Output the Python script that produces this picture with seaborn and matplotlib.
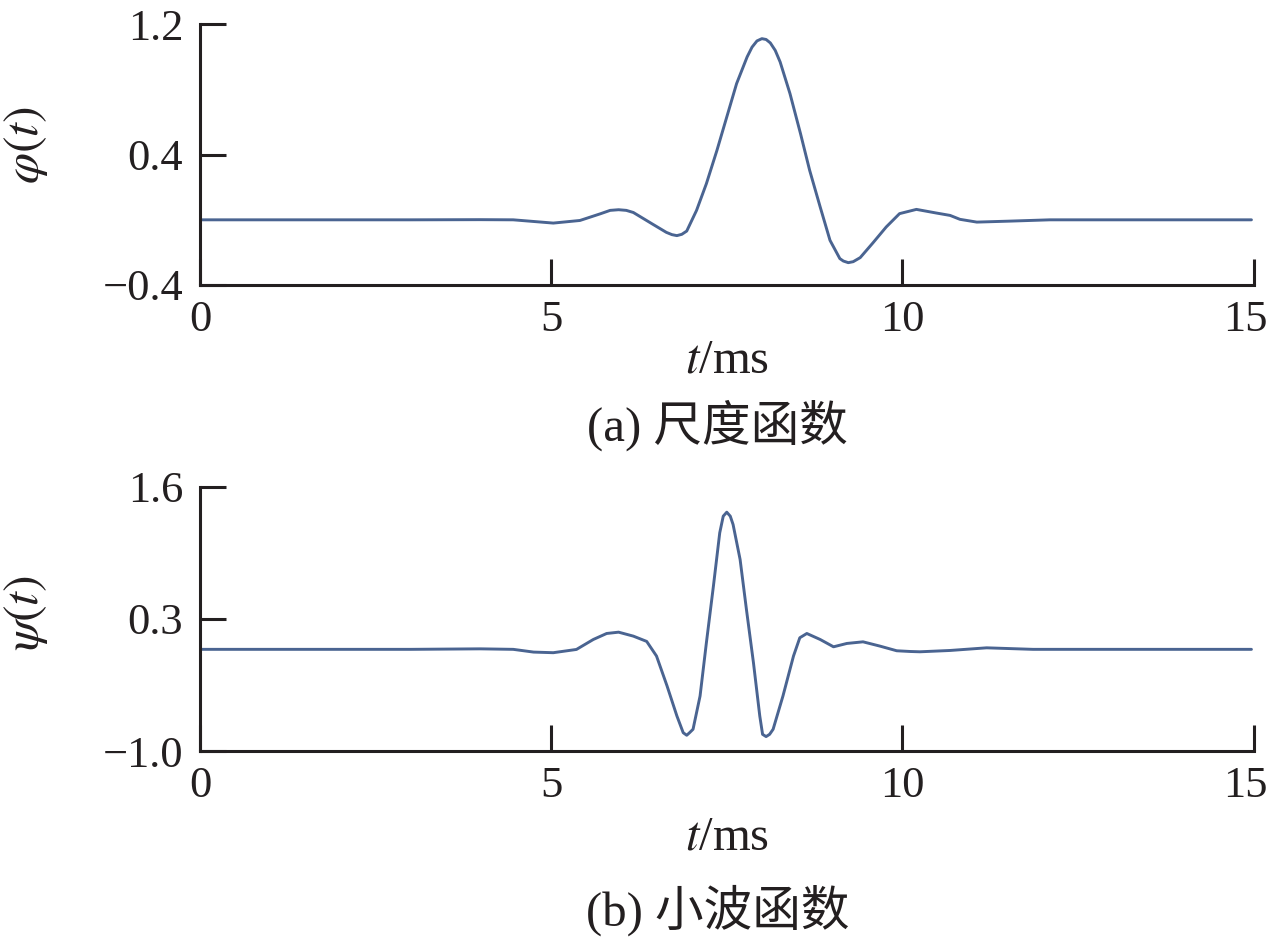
import numpy as np
import pandas as pd
import matplotlib
matplotlib.use("Agg")
import matplotlib.pyplot as plt
import matplotlib.transforms as mtransforms
import seaborn as sns

# ==================================================
# Data
# ==================================================
# (a) scaling function phi(t)
t_phi = [0.0, 1.0, 2.0, 3.0, 3.99, 4.46, 5.03, 5.41, 5.70, 5.84, 5.96,
         6.07, 6.17, 6.45, 6.64, 6.72, 6.79, 6.86, 6.93, 7.07, 7.21,
         7.36, 7.50, 7.64, 7.79, 7.86, 7.93, 8.00, 8.06, 8.12, 8.19,
         8.26, 8.40, 8.55, 8.68, 8.83, 8.97, 9.11, 9.16, 9.23, 9.30,
         9.40, 9.58, 9.77, 9.96, 10.20, 10.48, 10.68, 10.82, 11.06,
         11.53, 12.10, 13.0, 14.0, 14.97]
phi_vals = [0.0, 0.0, 0.0, 0.0, 0.001, 0.0, -0.02, -0.004, 0.037, 0.058,
            0.062, 0.058, 0.045, -0.028, -0.077, -0.091, -0.097, -0.089,
            -0.069, 0.058, 0.222, 0.426, 0.631, 0.836, 1.0, 1.06, 1.098,
            1.112, 1.107, 1.086, 1.04, 0.969, 0.775, 0.529, 0.304, 0.079,
            -0.126, -0.238, -0.253, -0.263, -0.257, -0.232, -0.142,
            -0.044, 0.038, 0.064, 0.042, 0.027, 0.003, -0.014, -0.008,
            0.0, 0.0, 0.0, 0.0]

# (b) wavelet function psi(t)
t_psi = [0.0, 1.0, 2.0, 3.0, 3.99, 4.46, 4.75, 5.03, 5.36, 5.60, 5.79,
         5.96, 6.17, 6.36, 6.50, 6.65, 6.79, 6.88, 6.93, 6.97, 7.02,
         7.12, 7.21, 7.31, 7.40, 7.45, 7.50, 7.55, 7.59, 7.69, 7.78,
         7.88, 7.97, 8.01, 8.06, 8.11, 8.16, 8.30, 8.45, 8.54, 8.64,
         8.83, 9.02, 9.21, 9.44, 9.68, 9.92, 10.11, 10.25, 10.68, 11.20,
         11.86, 12.80, 14.0, 14.97]
psi_vals = [0.0, 0.0, 0.0, 0.0, 0.005, 0.0, -0.027, -0.033, -0.001, 0.097,
            0.156, 0.169, 0.13, 0.078, -0.066, -0.36, -0.655, -0.82,
            -0.845, -0.82, -0.786, -0.459, 0.065, 0.622, 1.146, 1.31,
            1.349, 1.31, 1.228, 0.884, 0.393, -0.131, -0.655, -0.836,
            -0.858, -0.836, -0.786, -0.459, -0.066, 0.114, 0.156, 0.097,
            0.025, 0.058, 0.074, 0.032, -0.014, -0.021, -0.024, -0.011,
            0.015, 0.0, 0.0, 0.0, 0.0]

x_ticks = [0, 5, 10, 15]
phi_ticks = [-0.4, 0.4, 1.2]
phi_tick_labels = ["\u22120.4", "0.4", "1.2"]
psi_ticks = [-1.0, 0.3, 1.6]
psi_tick_labels = ["\u22121.0", "0.3", "1.6"]

captions = ["(a) 尺度函数", "(b) 小波函数"]
y_labels = [r"$\varphi(t)$", r"$\psi(t)$"]

# ==================================================
# Style
# ==================================================
sns.set_theme(style="ticks")
plt.rcParams["font.family"] = ["Liberation Serif", "Noto Sans CJK SC"]
plt.rcParams["mathtext.fontset"] = "stix"

line_color = "#4a6491"
axis_color = "#231f20"

fig = plt.figure(figsize=(12.72, 9.39), dpi=100)
ax_top = fig.add_axes([0.1572, 0.6965, 0.8283, 0.2776])
ax_bot = fig.add_axes([0.1572, 0.2002, 0.8283, 0.2815])

panels = [
    (ax_top, t_phi, phi_vals, phi_ticks, phi_tick_labels, (-0.4, 1.2), -0.288, 0.537),
    (ax_bot, t_psi, psi_vals, psi_ticks, psi_tick_labels, (-1.0, 1.6), -0.329, 0.524),
]

for i, (ax, tx, vals, yt, ytl, ylim, xlab_y, ylab_y) in enumerate(panels):

    df = pd.DataFrame({"t": tx, "v": vals})
    sns.lineplot(data=df, x="t", y="v", ax=ax, color=line_color,
                 linewidth=2.1, solid_joinstyle="round", solid_capstyle="round")

    ax.set_xlim(0, 15)
    ax.set_ylim(*ylim)
    ax.set_xticks(x_ticks)
    ax.set_xticklabels([str(v) for v in x_ticks], fontsize=32)
    ax.set_yticks(yt)
    ax.set_yticklabels(ytl, fontsize=32)

    sns.despine(ax=ax)
    for side in ["left", "bottom"]:
        ax.spines[side].set_color(axis_color)
        ax.spines[side].set_linewidth(2.2)

    ax.tick_params(direction="in", length=19, width=2.2, color=axis_color,
                   labelcolor=axis_color)
    ax.tick_params(axis="y", pad=12)
    ax.tick_params(axis="x", pad=11)

    # last x label sits a little left of its tick, as in the original
    last = ax.xaxis.get_major_ticks()[-1].label1
    last.set_transform(last.get_transform() +
                       mtransforms.ScaledTranslation(-8 / 100, 0, fig.dpi_scale_trans))

    ax.set_xlabel(r"$t$/ms", fontsize=35, color=axis_color, va="center")
    ax.xaxis.set_label_coords(0.5, xlab_y)
    ax.set_ylabel(y_labels[i], fontsize=36, color=axis_color, va="center")
    ax.yaxis.set_label_coords(-0.165, ylab_y)

    ax.grid(False)

fig.text(0.564, 0.547, captions[0], fontsize=35, color=axis_color,
         ha="center", va="center")
fig.text(0.564, 0.031, captions[1], fontsize=35, color=axis_color,
         ha="center", va="center")

fig.savefig("out.png", dpi=100)
